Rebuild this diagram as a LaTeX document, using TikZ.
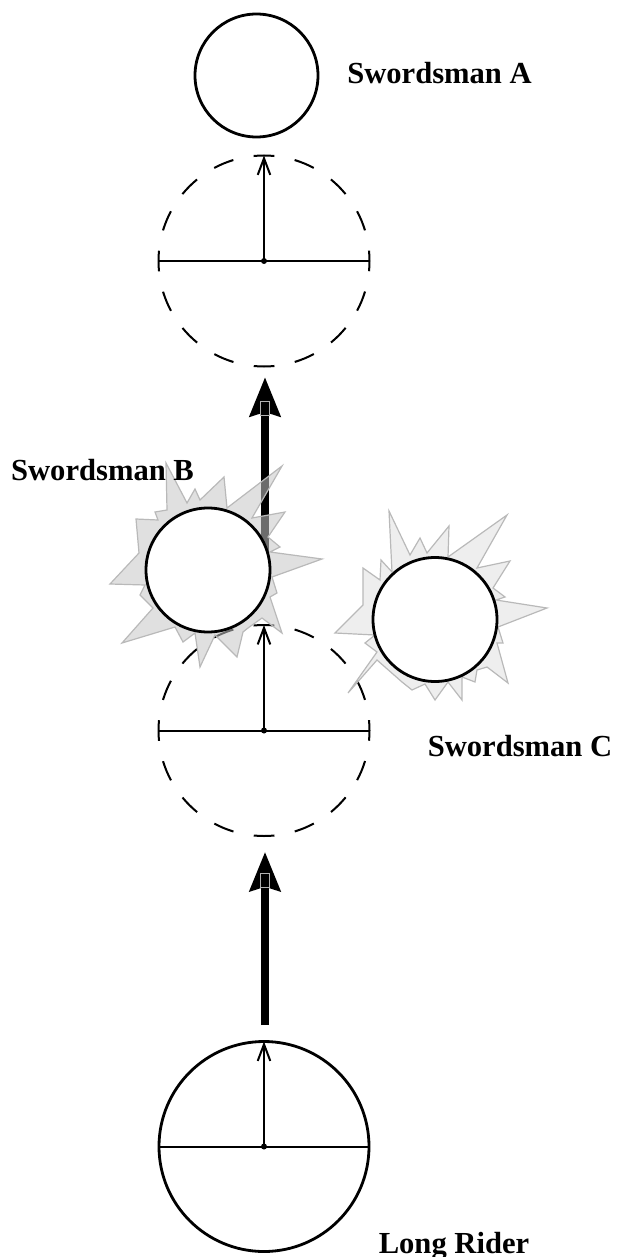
\documentclass[tikz,border=0pt]{standalone}
\usepackage{fontspec}
\setmainfont{Liberation Serif}
\usetikzlibrary{arrows.meta}
\begin{document}
\begin{tikzpicture}[x=0.5pt,y=-0.5pt,
  solidc/.style={circle,draw,line width=1.4pt,fill=white,inner sep=0pt,outer sep=0pt},
  dashc/.style={circle,draw,line width=1pt,inner sep=0pt,outer sep=0pt,minimum size=105.5pt,
     dash pattern=on 10.36pt off 10.36pt,dash phase=5.18pt},
  guide/.style={line width=1pt},
  barb/.style={guide,-{Straight Barb[length=8.3pt,width=6.3pt]}},
  heavy/.style={line width=4.35pt,-{Stealth[length=19.5pt,width=15pt,inset=2pt]}},
  tipbox/.style={draw=gray!60,line width=0.3pt},
  burstB/.style={draw=gray!55,line width=0.6pt,fill=gray!45,fill opacity=0.55},
  burstC/.style={draw=gray!55,line width=0.6pt,fill=gray!45,fill opacity=0.3},
  lbl/.style={font=\fontsize{15.3}{18}\selectfont\bfseries,anchor=base,inner sep=0pt},
]
\useasboundingbox (0,0) rectangle (617,1257);

% dashed ghost circles and long rider
\node[dashc] (D1) at (264,261) {};
\node[dashc] (D2) at (264,730.5) {};
\node[solidc,minimum size=105pt] (LR) at (264,1146.5) {};

\foreach \n in {D1,D2,LR}{
  \draw[guide] (\n.west) -- (\n.east);
  \draw[barb] (\n.center) -- (\n.north);
  \fill (\n.center) circle (1.5pt);
}

% heavy movement arrows
\coordinate (h1s) at (265,570);
\coordinate (h1e) at (265,377);
\coordinate (h2s) at (265,1025);
\coordinate (h2e) at (265,851.7);
\draw[heavy] (h1s) -- (h1e);
\draw[heavy] (h2s) -- (h2e);
\draw[tipbox] ([xshift=-2.15pt,yshift=-12pt]h1e) rectangle ([xshift=2.15pt,yshift=-19pt]h1e);
\draw[tipbox] ([xshift=-2.15pt,yshift=-11pt]h2e) rectangle ([xshift=2.15pt,yshift=-18pt]h2e);

% bursts
\draw[burstB] (166,463) -- (187,503) -- (195,489) -- (200,500) -- (224,477) -- (227,508)
  -- (282,466) -- (252,518) -- (285,512) -- (268,537) -- (280,547) -- (270,552)
  -- (322,559) -- (272,577) -- (277,593) -- (270,597) -- (282,633) -- (262,618)
  -- (248,628) -- (243,632) -- (237,657) -- (215,635) -- (200,667) -- (195,633)
  -- (183,642) -- (175,627) -- (122,643) -- (153,608) -- (140,595) -- (145,585)
  -- (110,584) -- (139,553) -- (136,519) -- (158,520) -- (155,512) -- (167,510) -- cycle;
\draw[burstC] (389,511) -- (410,555) -- (420,538) -- (427,553) -- (449,526) -- (448,557)
  -- (507,515) -- (477,568) -- (510,561) -- (493,588) -- (505,597) -- (496,600)
  -- (547,608) -- (498,627) -- (503,643) -- (497,643) -- (508,683) -- (487,667)
  -- (477,670) -- (475,682) -- (462,677) -- (462,700) -- (448,682) -- (435,700)
  -- (425,684) -- (412,690) -- (402,682) -- (377,660) -- (348,693) -- (377,652)
  -- (365,643) -- (375,635) -- (335,633) -- (363,605) -- (363,568) -- (380,580)
  -- (381,560) -- (392,572) -- cycle;

% swordsmen
\node[solidc,minimum size=61.5pt] (A) at (256.5,75.5) {};
\node[solidc,minimum size=62pt] (B) at (208,570) {};
\node[solidc,minimum size=62pt] (C) at (435,619.5) {};

% labels
\node[lbl] (labA) at (439.5,84) {Swordsman A};
\node[lbl] (labB) at (102.5,480) {Swordsman B};
\node[lbl] (labC) at (520,756) {Swordsman C};
\node[lbl] (labLR) at (454,1253) {Long Rider};
\end{tikzpicture}
\end{document}
